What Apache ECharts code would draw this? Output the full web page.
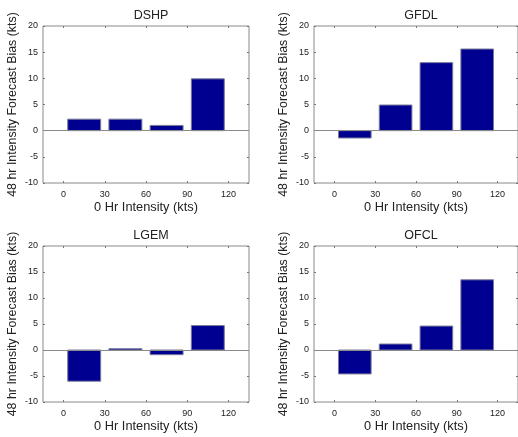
<!DOCTYPE html>
<html>
<head>
<meta charset="utf-8">
<script src="https://cdn.jsdelivr.net/npm/echarts@6/dist/echarts.min.js"></script>
<style>
html,body{margin:0;padding:0;background:#fff;}
#c{width:518px;height:437px;}
</style>
</head>
<body>
<div id="c"></div>
<script>
// Data
const models = ['DSHP', 'GFDL', 'LGEM', 'OFCL'];
const binStarts = [0, 30, 60, 90];
const binWidth = 30;
const xTicks = [0, 30, 60, 90, 120];
const yTicks = [-10, -5, 0, 5, 10, 15, 20];
const dshp = [2.2, 2.2, 1.0, 9.9];
const gfdl = [-1.4, 4.9, 13.0, 15.6];
const lgem = [-6.0, 0.25, -0.9, 4.7];
const ofcl = [-4.6, 1.15, 4.6, 13.5];
const seriesValues = [dshp, gfdl, lgem, ofcl];

const xTitle = '0 Hr Intensity (kts)';
const yTitle = '48 hr Intensity Forecast Bias (kts)';

const font = 'Liberation Sans, Arial, Helvetica, sans-serif';
const grids = [
  {left: 43, top: 26, width: 206, height: 157},
  {left: 314, top: 26, width: 204, height: 157},
  {left: 43, top: 246, width: 206, height: 156},
  {left: 314, top: 246, width: 204, height: 156}
];

const option = {
  animation: false,
  backgroundColor: '#ffffff',
  title: [], grid: [], xAxis: [], yAxis: [], series: []
};

grids.forEach((g, i) => {
  option.grid.push(Object.assign({show: true, borderColor: '#8a8a8a', borderWidth: 1, backgroundColor: '#fff'}, g));
  option.title.push({
    text: models[i], left: g.left + g.width / 2, top: g.top - 22, textAlign: 'center',
    textStyle: {fontFamily: font, fontSize: 12.5, fontWeight: 'normal', color: '#222'}
  });
  const tickStyle = {show: true, inside: true, length: 2, lineStyle: {color: '#777'}};
  const noLine = {show: false, onZero: false};
  option.xAxis.push({
    type: 'value', gridIndex: i, min: -15, max: 135, position: 'bottom',
    name: xTitle, nameLocation: 'middle', nameGap: 18,
    nameTextStyle: {fontFamily: font, fontSize: 12.8, color: '#222', verticalAlign: 'top'},
    axisLine: noLine, splitLine: {show: false},
    axisTick: Object.assign({customValues: xTicks}, tickStyle),
    axisLabel: {customValues: xTicks, margin: 7, fontFamily: font, fontSize: 9, color: '#222'}
  });
  option.xAxis.push({
    type: 'value', gridIndex: i, min: -15, max: 135, position: 'top',
    axisLine: noLine, splitLine: {show: false},
    axisTick: Object.assign({customValues: xTicks}, tickStyle),
    axisLabel: {show: false}
  });
  option.yAxis.push({
    type: 'value', gridIndex: i, min: -10, max: 20, position: 'left',
    name: yTitle, nameLocation: 'middle', nameGap: 24, nameRotate: 90,
    nameTextStyle: {fontFamily: font, fontSize: 12.4, color: '#222'},
    axisLine: noLine, splitLine: {show: false},
    axisTick: Object.assign({customValues: yTicks}, tickStyle),
    axisLabel: {customValues: yTicks, margin: 5, fontFamily: font, fontSize: 9, color: '#222'}
  });
  option.yAxis.push({
    type: 'value', gridIndex: i, min: -10, max: 20, position: 'right',
    axisLine: noLine, splitLine: {show: false},
    axisTick: Object.assign({customValues: yTicks}, tickStyle),
    axisLabel: {show: false}
  });
  const data = binStarts.map((s, k) => [s, s + binWidth, seriesValues[i][k]]);
  option.series.push({
    type: 'custom', xAxisIndex: 2 * i, yAxisIndex: 2 * i, clip: true,
    data: data,
    renderItem: function (params, api) {
      const x0 = api.value(0), x1 = api.value(1), v = api.value(2);
      const pad = (x1 - x0) * 0.1;
      const p0 = api.coord([x0 + pad, 0]);
      const p1 = api.coord([x1 - pad, v]);
      return {
        type: 'rect',
        shape: {x: Math.min(p0[0], p1[0]), y: Math.min(p0[1], p1[1]), width: Math.abs(p1[0] - p0[0]), height: Math.abs(p1[1] - p0[1])},
        style: {fill: '#000090', stroke: '#7a7a9a', lineWidth: 1}
      };
    },
    markLine: {
      silent: true, symbol: 'none', label: {show: false},
      lineStyle: {color: '#8a8a8a', width: 1, type: 'solid'},
      data: [{yAxis: 0}]
    }
  });
});

const chart = echarts.init(document.getElementById('c'), null, {renderer: 'canvas'});
chart.setOption(option);
</script>
</body>
</html>
